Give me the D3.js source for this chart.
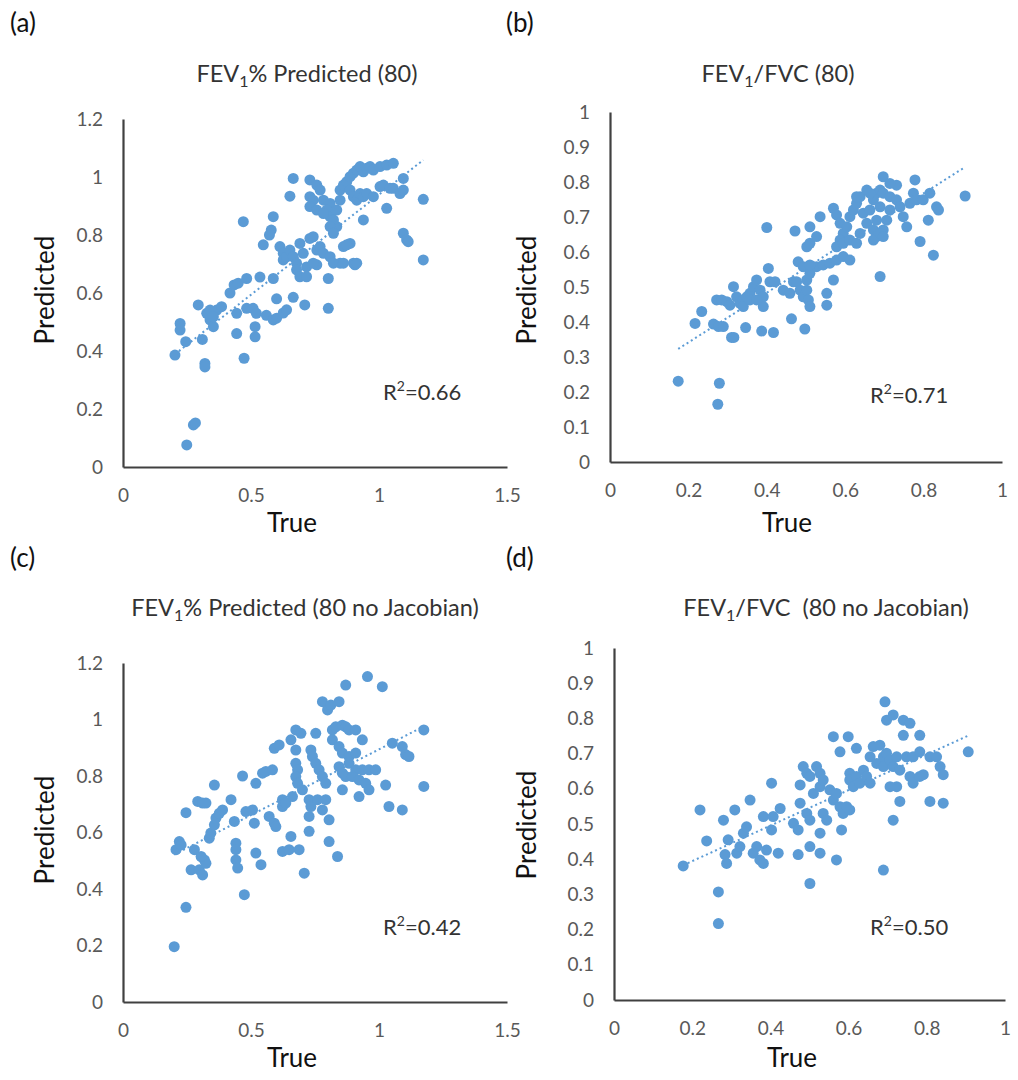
<!DOCTYPE html>
<html>
<head>
<meta charset="utf-8">
<script src="https://cdn.jsdelivr.net/npm/d3@7"></script>
<style>
  body { margin: 0; background: #fff; }
  svg text { font-family: Lato, "Open Sans", sans-serif; }
</style>
</head>
<body>
<div id="chart"></div>
<script>
// ---- data: [true, predicted] ----
const pointsA = [
  [0.249,0.076],[0.275,0.145],[0.283,0.152],[0.203,0.386],[0.32,0.357],[0.32,0.345],[0.473,0.375],
  [0.223,0.472],[0.223,0.495],[0.245,0.432],[0.31,0.44],[0.294,0.559],[0.327,0.53],[0.34,0.507],
  [0.353,0.484],[0.366,0.541],[0.385,0.553],[0.34,0.541],[0.353,0.518],[0.444,0.46],[0.444,0.53],
  [0.418,0.6],[0.434,0.628],[0.45,0.634],[0.483,0.65],[0.535,0.655],[0.587,0.65],[0.516,0.449],
  [0.516,0.484],[0.483,0.547],[0.508,0.547],[0.521,0.53],[0.56,0.523],[0.587,0.507],[0.6,0.513],
  [0.626,0.531],[0.639,0.542],[0.6,0.58],[0.665,0.585],[0.71,0.559],[0.802,0.547],[0.802,0.65],
  [0.47,0.846],[0.587,0.863],[0.579,0.817],[0.572,0.8],[0.548,0.766],[0.613,0.76],[0.626,0.737],
  [0.626,0.714],[0.639,0.725],[0.652,0.748],[0.665,0.725],[0.678,0.703],[0.691,0.771],[0.704,0.737],
  [0.717,0.69],[0.678,0.68],[0.691,0.656],[0.717,0.656],[0.73,0.788],[0.743,0.794],[0.757,0.748],
  [0.77,0.76],[0.783,0.737],[0.809,0.725],[0.822,0.703],[0.848,0.703],[0.861,0.76],[0.887,0.771],
  [0.9,0.703],[0.906,0.697],[0.757,0.697],[0.743,0.703],[0.874,0.766],[0.861,0.703],[0.913,0.703],
  [0.665,0.995],[0.652,0.934],[0.73,0.99],[0.757,0.972],[0.73,0.932],[0.743,0.92],[0.77,0.955],
  [0.783,0.92],[0.809,0.909],[0.796,0.886],[0.809,0.863],[0.822,0.852],[0.835,0.829],[0.835,0.886],
  [0.848,0.92],[0.848,0.955],[0.861,0.972],[0.874,0.984],[0.887,1.001],[0.9,1.013],[0.913,1.024],
  [0.926,1.036],[0.939,1.018],[0.952,1.03],[0.965,1.036],[0.978,1.024],[1.004,1.036],[1.03,1.041],
  [1.056,1.047],[0.887,0.955],[0.9,0.932],[0.913,0.92],[0.926,0.943],[0.939,0.932],[0.952,0.943],
  [0.978,0.932],[1.004,0.967],[1.017,0.972],[1.043,0.961],[1.056,0.961],[1.082,0.943],[1.095,0.995],
  [1.095,0.955],[0.939,0.852],[1.03,0.892],[1.095,0.806],[1.108,0.783],[1.114,0.777],[1.173,0.923],
  [1.173,0.714],[0.73,0.898],[0.757,0.886],[0.783,0.874],[0.809,0.829],[0.822,0.806]
];

const pointsB = [
  [0.174,0.231],[0.279,0.225],[0.275,0.165],[0.217,0.396],[0.234,0.43],[0.264,0.394],[0.277,0.387],
  [0.289,0.387],[0.31,0.356],[0.316,0.356],[0.346,0.384],[0.387,0.374],[0.417,0.37],[0.4,0.67],
  [0.404,0.553],[0.463,0.409],[0.497,0.38],[0.272,0.463],[0.285,0.463],[0.298,0.458],[0.306,0.448],
  [0.315,0.501],[0.323,0.472],[0.332,0.453],[0.34,0.463],[0.349,0.472],[0.357,0.482],[0.366,0.501],
  [0.374,0.52],[0.383,0.491],[0.391,0.472],[0.391,0.444],[0.408,0.515],[0.421,0.515],[0.34,0.444],
  [0.357,0.463],[0.374,0.463],[0.442,0.491],[0.459,0.482],[0.468,0.515],[0.476,0.515],[0.485,0.491],
  [0.493,0.472],[0.502,0.491],[0.506,0.463],[0.51,0.444],[0.502,0.52],[0.553,0.482],[0.553,0.448],
  [0.57,0.52],[0.472,0.66],[0.51,0.672],[0.536,0.701],[0.502,0.615],[0.51,0.625],[0.527,0.644],
  [0.48,0.572],[0.493,0.558],[0.51,0.539],[0.527,0.558],[0.544,0.563],[0.561,0.568],[0.578,0.577],
  [0.595,0.587],[0.612,0.577],[0.51,0.563],[0.689,0.53],[0.57,0.725],[0.578,0.706],[0.587,0.682],
  [0.595,0.653],[0.587,0.634],[0.578,0.615],[0.595,0.625],[0.612,0.634],[0.629,0.625],[0.638,0.653],
  [0.604,0.672],[0.612,0.701],[0.621,0.72],[0.629,0.739],[0.638,0.758],[0.646,0.711],[0.655,0.682],
  [0.663,0.72],[0.672,0.749],[0.68,0.768],[0.689,0.777],[0.697,0.768],[0.689,0.729],[0.68,0.691],
  [0.672,0.663],[0.68,0.644],[0.697,0.663],[0.706,0.691],[0.714,0.72],[0.714,0.758],[0.731,0.749],
  [0.74,0.729],[0.748,0.701],[0.757,0.672],[0.765,0.739],[0.774,0.768],[0.782,0.749],[0.799,0.749],
  [0.816,0.768],[0.833,0.729],[0.838,0.72],[0.812,0.691],[0.791,0.63],[0.825,0.591],[0.697,0.815],
  [0.731,0.791],[0.778,0.806],[0.629,0.758],[0.655,0.777],[0.663,0.768],[0.714,0.796],[0.672,0.634],
  [0.689,0.653],[0.697,0.644],[0.906,0.76]
];

const pointsC = [
  [0.2,0.196],[0.246,0.335],[0.246,0.67],[0.22,0.568],[0.207,0.539],[0.227,0.556],[0.279,0.539],
  [0.266,0.468],[0.298,0.468],[0.311,0.45],[0.318,0.503],[0.324,0.491],[0.305,0.515],[0.337,0.58],
  [0.343,0.598],[0.357,0.627],[0.363,0.651],[0.376,0.668],[0.389,0.68],[0.357,0.768],[0.292,0.71],
  [0.311,0.704],[0.324,0.704],[0.422,0.716],[0.435,0.639],[0.441,0.562],[0.441,0.539],[0.441,0.503],
  [0.448,0.474],[0.467,0.8],[0.474,0.38],[0.48,0.674],[0.506,0.68],[0.513,0.633],[0.519,0.527],
  [0.539,0.486],[0.519,0.774],[0.545,0.81],[0.558,0.816],[0.584,0.822],[0.591,0.898],[0.61,0.91],
  [0.571,0.657],[0.591,0.633],[0.597,0.621],[0.623,0.716],[0.623,0.692],[0.636,0.704],[0.656,0.586],
  [0.623,0.533],[0.649,0.539],[0.688,0.539],[0.708,0.456],[0.662,0.727],[0.675,0.963],[0.695,0.951],
  [0.656,0.928],[0.675,0.892],[0.675,0.845],[0.682,0.822],[0.675,0.798],[0.682,0.774],[0.701,0.751],
  [0.727,0.716],[0.734,0.692],[0.727,0.657],[0.76,0.716],[0.779,0.68],[0.792,0.716],[0.805,0.645],
  [0.805,0.568],[0.838,0.515],[0.727,0.604],[0.753,0.951],[0.734,0.892],[0.74,0.869],[0.753,0.845],
  [0.766,0.822],[0.779,0.798],[0.792,0.774],[0.779,1.063],[0.799,1.034],[0.812,1.051],[0.844,1.063],
  [0.818,0.963],[0.831,0.974],[0.857,0.98],[0.87,0.974],[0.883,0.963],[0.909,0.963],[0.935,0.928],
  [0.818,0.928],[0.844,0.904],[0.857,0.881],[0.883,0.869],[0.909,0.881],[0.844,0.833],[0.857,0.81],
  [0.883,0.845],[0.87,0.798],[0.909,0.822],[0.935,0.822],[0.961,0.822],[0.987,0.822],[0.896,0.798],
  [0.922,0.786],[0.948,0.774],[0.961,0.751],[0.922,0.727],[0.857,0.751],[0.87,1.122],[0.955,1.152],
  [1.013,1.116],[1.052,0.916],[1.091,0.904],[1.104,0.876],[1.117,0.869],[1.026,0.768],[1.175,0.963],
  [1.175,0.763],[1.039,0.692],[1.091,0.68]
];

const pointsD = [
  [0.177,0.381],[0.22,0.54],[0.237,0.452],[0.28,0.511],[0.284,0.413],[0.288,0.388],[0.292,0.455],
  [0.309,0.54],[0.314,0.417],[0.322,0.436],[0.331,0.474],[0.339,0.492],[0.348,0.568],[0.356,0.417],
  [0.365,0.436],[0.373,0.398],[0.382,0.521],[0.382,0.388],[0.39,0.426],[0.403,0.483],[0.403,0.616],
  [0.407,0.521],[0.42,0.417],[0.425,0.544],[0.459,0.502],[0.471,0.483],[0.471,0.413],[0.476,0.559],
  [0.476,0.611],[0.484,0.663],[0.493,0.644],[0.501,0.635],[0.493,0.53],[0.501,0.511],[0.501,0.436],
  [0.51,0.587],[0.518,0.663],[0.527,0.644],[0.527,0.606],[0.527,0.474],[0.527,0.417],[0.535,0.625],
  [0.535,0.53],[0.544,0.511],[0.552,0.597],[0.561,0.568],[0.569,0.587],[0.569,0.398],[0.578,0.549],
  [0.582,0.483],[0.586,0.53],[0.595,0.549],[0.603,0.54],[0.501,0.331],[0.561,0.748],[0.578,0.705],
  [0.599,0.748],[0.62,0.715],[0.603,0.644],[0.603,0.625],[0.612,0.606],[0.62,0.635],[0.629,0.616],
  [0.638,0.653],[0.646,0.635],[0.655,0.616],[0.655,0.691],[0.663,0.72],[0.672,0.672],[0.68,0.724],
  [0.689,0.691],[0.689,0.663],[0.697,0.701],[0.706,0.682],[0.714,0.663],[0.697,0.795],[0.714,0.81],
  [0.693,0.847],[0.74,0.795],[0.757,0.786],[0.74,0.752],[0.782,0.752],[0.723,0.691],[0.731,0.653],
  [0.748,0.691],[0.765,0.691],[0.782,0.705],[0.757,0.635],[0.765,0.616],[0.782,0.635],[0.791,0.64],
  [0.808,0.691],[0.825,0.691],[0.834,0.663],[0.842,0.64],[0.808,0.564],[0.842,0.559],[0.731,0.564],
  [0.714,0.511],[0.689,0.369],[0.723,0.606],[0.706,0.606],[0.267,0.307],[0.267,0.217],[0.906,0.705]
];

const xTicksWide = [0, 0.5, 1, 1.5];
const yTicksWide = [0, 0.2, 0.4, 0.6, 0.8, 1, 1.2];
const xTicksUnit = [0, 0.2, 0.4, 0.6, 0.8, 1];
const yTicksUnit = [0, 0.1, 0.2, 0.3, 0.4, 0.5, 0.6, 0.7, 0.8, 0.9, 1];

const panelLetters = ["(a)", "(b)", "(c)", "(d)"];
const titleTails = ["% Predicted (80)", "/FVC (80)", "% Predicted (80 no Jacobian)", "/FVC  (80 no Jacobian)"];
const r2Values = ["0.66", "0.71", "0.42", "0.50"];

// ---- layout ----
const W = 1018, H = 1080;
const blue = "#5b9bd5";

const layout = [
  { pts: pointsA, xt: xTicksWide, yt: yTicksWide, xr: [123, 507], yr: [467, 119],
    letter: [10, 32], title: [307, 82], r2: [383, 400], trueLbl: [292, 532], predLbl: [54, 290] },
  { pts: pointsB, xt: xTicksUnit, yt: yTicksUnit, xr: [610, 1002], yr: [462, 112],
    letter: [506, 32], title: [778, 82], r2: [870, 403], trueLbl: [787, 532], predLbl: [536, 290] },
  { pts: pointsC, xt: xTicksWide, yt: yTicksWide, xr: [123, 507], yr: [1002, 663],
    letter: [10, 567], title: [305, 616], r2: [383, 935], trueLbl: [292, 1067], predLbl: [54, 830] },
  { pts: pointsD, xt: xTicksUnit, yt: yTicksUnit, xr: [614, 1005], yr: [1000, 648],
    letter: [506, 567], title: [826, 616], r2: [870, 935], trueLbl: [792, 1067], predLbl: [536, 825] }
];

const svg = d3.select("#chart").append("svg")
  .attr("width", W)
  .attr("height", H);

const fmt = d => String(+d.toFixed(2));

function fitLine(pts) {
  const mx = d3.mean(pts, p => p[0]), my = d3.mean(pts, p => p[1]);
  let sxy = 0, sxx = 0;
  pts.forEach(p => { sxy += (p[0] - mx) * (p[1] - my); sxx += (p[0] - mx) * (p[0] - mx); });
  const slope = sxy / sxx;
  return { slope: slope, icpt: my - slope * mx };
}

layout.forEach((L, i) => {
  const x = d3.scaleLinear().domain([0, d3.max(L.xt)]).range(L.xr);
  const y = d3.scaleLinear().domain([0, d3.max(L.yt)]).range(L.yr);
  const g = svg.append("g");

  // axes, no tick marks
  const ax = g.append("g")
    .attr("transform", `translate(0,${L.yr[0]})`)
    .call(d3.axisBottom(x).tickValues(L.xt).tickSize(0).tickPadding(22).tickFormat(fmt));
  const ay = g.append("g")
    .attr("transform", `translate(${L.xr[0]},0)`)
    .call(d3.axisLeft(y).tickValues(L.yt).tickSize(0).tickPadding(20).tickFormat(fmt));
  [ax, ay].forEach(a => {
    a.select(".domain").attr("stroke", "#404040").attr("stroke-width", 2.2);
    a.selectAll("text").attr("fill", "#595959").style("font-size", "19px");
  });

  // linear trend over the data range
  const f = fitLine(L.pts);
  const xe = d3.extent(L.pts, p => p[0]);
  g.append("line")
    .attr("x1", x(xe[0])).attr("y1", y(f.icpt + f.slope * xe[0]))
    .attr("x2", x(xe[1])).attr("y2", y(f.icpt + f.slope * xe[1]))
    .attr("stroke", blue).attr("stroke-width", 2).attr("stroke-dasharray", "2,3");

  g.append("g").selectAll("circle")
    .data(L.pts)
    .join("circle")
    .attr("cx", d => x(d[0]))
    .attr("cy", d => y(d[1]))
    .attr("r", 5.5)
    .attr("fill", blue);

  // texts
  g.append("text")
    .attr("x", L.letter[0]).attr("y", L.letter[1])
    .style("font-size", "26px").attr("fill", "#111")
    .text(panelLetters[i]);

  const t = g.append("text")
    .attr("x", L.title[0]).attr("y", L.title[1])
    .attr("text-anchor", "middle")
    .style("font-size", "23.5px").attr("fill", "#333")
    .attr("xml:space", "preserve");
  t.append("tspan").text("FEV");
  t.append("tspan").attr("dy", 5).style("font-size", "16px").text("1");
  t.append("tspan").attr("dy", -5).text(titleTails[i]);

  const r = g.append("text")
    .attr("x", L.r2[0]).attr("y", L.r2[1])
    .style("font-size", "22px").attr("fill", "#333");
  r.append("tspan").text("R");
  r.append("tspan").attr("dy", -9).style("font-size", "14px").text("2");
  r.append("tspan").attr("dy", 9).text("=" + r2Values[i]);

  g.append("text")
    .attr("x", L.trueLbl[0]).attr("y", L.trueLbl[1])
    .attr("text-anchor", "middle")
    .style("font-size", "26px").attr("fill", "#111")
    .text("True");

  g.append("text")
    .attr("transform", `translate(${L.predLbl[0]},${L.predLbl[1]}) rotate(-90)`)
    .attr("text-anchor", "middle")
    .style("font-size", "26px").attr("fill", "#111")
    .text("Predicted");
});
</script>
</body>
</html>
